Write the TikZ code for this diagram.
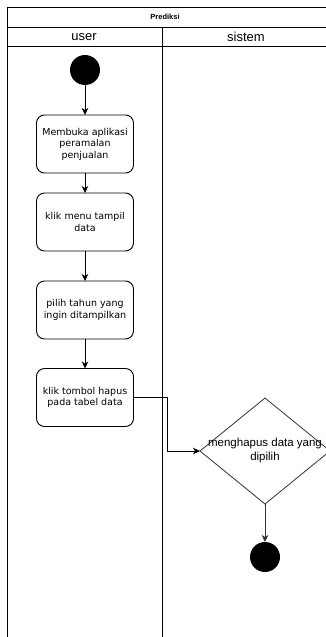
\documentclass[tikz,border=0pt]{standalone}
\usepackage{fontspec}
\setmainfont{Liberation Sans}
\newfontfamily\boxfont{DejaVu Sans}
\usetikzlibrary{positioning, shapes.geometric, arrows.meta, calc}

\begin{document}
\begin{tikzpicture}[x=1pt,y=-1pt,
    lane/.style={line width=1pt},
    act/.style={draw,rounded corners=8pt,line width=0.9pt,minimum width=97pt,minimum height=58pt,inner sep=2pt,outer sep=0pt,align=center,font=\boxfont\fontsize{9.5}{11.5}\selectfont},
    dot/.style={circle,fill=black,minimum size=30pt,inner sep=0pt,outer sep=0pt},
    decision/.style={diamond,draw=black!80,line width=0.8pt,minimum width=130pt,minimum height=106pt,inner sep=0pt,outer sep=0pt},
    flow/.style={->,>={Stealth[length=7pt,width=6.5pt,inset=2pt]},line width=0.9pt}]
      \useasboundingbox (0,0) rectangle (326,637);
      \clip (0,0) rectangle (326,637);
      \fill[white] (0,0) rectangle (326,637);
      % swimlane
      \draw[lane] (7,645)--(7,7)--(335,7);
      \draw[lane] (7,27)--(335,27);
      \draw[lane] (7,46)--(335,46);
      \draw[lane] (162,27)--(162,645);
      \node[font=\bfseries\fontsize{7.5}{9}\selectfont] (judul) at (165,17) {Prediksi};
      \node[font=\fontsize{13}{14}\selectfont] (user) at (84,37) {user};
      \node[font=\fontsize{13}{14}\selectfont] (sistem) at (246,37) {sistem};
      % user
      \node[dot] (start) at (85,70) {};
      \node[act] (buka) at (85,144) {Membuka aplikasi\\peramalan\\penjualan};
      \node[act] (menu) at (85,222) {klik menu tampil\\data};
      \node[act] (tahun) at (85,310) {pilih tahun yang\\ingin ditampilkan};
      \node[act] (hapus) at (85,397.5) {klik tombol hapus\\pada tabel data};
      % sistem
      \node[decision] (hapusdata) at (265,451) {};
      \node[font=\fontsize{11.5}{14}\selectfont,align=center] (hapustxt) at (hapusdata) {menghapus data yang\\dipilih};
      \node[dot] (stop) at (265,557) {};
      % alur
      \draw[flow] (start)--(buka);
      \draw[flow] (buka)--(menu);
      \draw[flow] (menu)--(tahun);
      \draw[flow] (tahun)--(hapus);
      \draw[flow] (hapus.east)--++(34,0)|-(hapusdata.west);
      \draw[flow,black!80] (hapusdata.south)--(stop);
\end{tikzpicture}
\end{document}
